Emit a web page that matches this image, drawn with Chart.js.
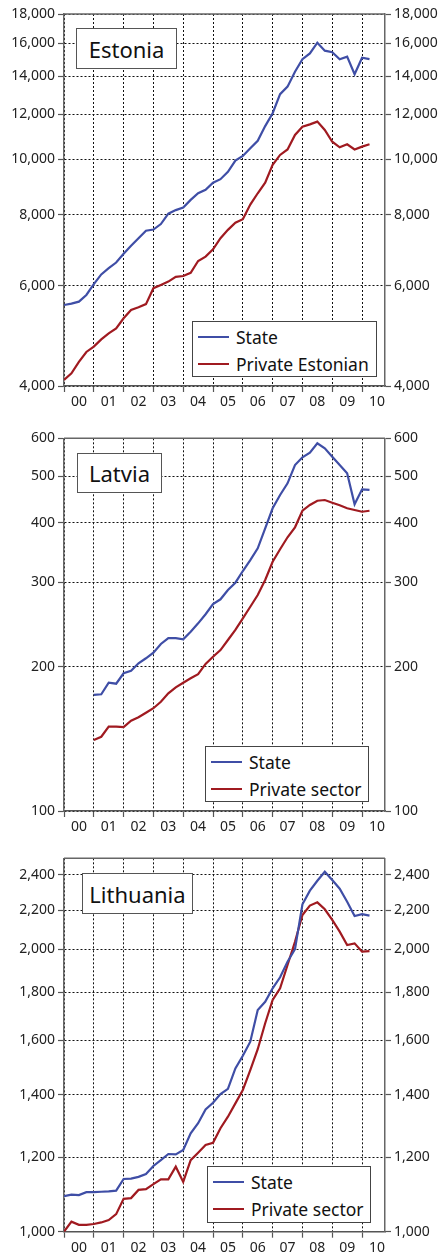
<!DOCTYPE html>
<html><head><meta charset="utf-8">
<script src="https://cdn.jsdelivr.net/npm/chart.js@4.4.1/dist/chart.umd.min.js"></script>
<style>
html,body{margin:0;padding:0;background:#fff;}
body{width:445px;height:1256px;position:relative;overflow:hidden;font-family:"Noto Sans",sans-serif;}
.panel{position:absolute;left:0;width:445px;}
.panel canvas{position:absolute;left:0;top:0;}
.title{position:absolute;background:#fff;border:1px solid #555;box-sizing:border-box;font-size:22px;color:#111;display:flex;align-items:center;justify-content:center;}
.legend{position:absolute;background:#fff;border:1px solid #444;box-sizing:border-box;font-size:17.5px;color:#111;}
.legend .row{display:flex;align-items:center;height:27px;}
.legend .row:first-child{margin-top:1px;}
.legend .sw{width:31px;height:0;border-top:2.5px solid;margin:0 7px 0 5px;}
</style>
</head><body>

<div class="panel" id="p1" style="top:0;height:420px;">
  <canvas id="c1" width="445" height="420"></canvas>
  <div class="title" style="left:76px;top:28px;width:101px;height:41px;">Estonia</div>
  <div class="legend" id="lg1" style="left:192px;top:321px;width:185px;height:56px;"></div>
</div>
<div class="panel" id="p2" style="top:420px;height:420px;">
  <canvas id="c2" width="445" height="420"></canvas>
  <div class="title" style="left:77px;top:33px;width:85px;height:40px;">Latvia</div>
  <div class="legend" id="lg2" style="left:205px;top:326px;width:164px;height:56px;"></div>
</div>
<div class="panel" id="p3" style="top:840px;height:416px;">
  <canvas id="c3" width="445" height="416"></canvas>
  <div class="title" style="left:82px;top:33px;width:111px;height:41px;">Lithuania</div>
  <div class="legend" id="lg3" style="left:207px;top:326px;width:164px;height:57px;"></div>
</div>

<script>
// ---- categories: quarters 2000Q1 .. 2010Q2 ----
const quarters = [];
for (let y = 2000; y <= 2010; y++) for (let q = 1; q <= 4; q++) quarters.push(y + 'Q' + q);
quarters.length = 42;

// ---- x tick labels (years) ----
const yearTicks = [2000,2001,2002,2003,2004,2005,2006,2007,2008,2009,2010];

// ---- Estonia ----
const estoniaState = [5550,5580,5625,5780,6040,6280,6440,6590,6830,7050,7270,7495,7530,7700,8030,8145,8230,8490,8720,8840,9100,9230,9510,9950,10140,10460,10780,11440,12050,13020,13420,14250,14990,15350,16030,15520,15420,14990,15150,14110,15080,15000];
const estoniaPrivate = [4100,4210,4410,4590,4690,4830,4950,5050,5260,5440,5500,5570,5940,6020,6100,6220,6240,6320,6630,6750,6950,7270,7520,7740,7850,8330,8720,9100,9780,10180,10410,11040,11410,11520,11650,11260,10740,10500,10630,10410,10530,10630];
const estoniaTicks = [4000,6000,8000,10000,12000,14000,16000,18000];

// ---- Latvia ----
const latviaState = [null,null,null,null,174.7,175.3,185.3,184.4,193.9,196.3,203.4,208.4,214,223.2,229.7,229.5,228.3,236.8,246.5,257.5,270.5,276.7,289.3,299.7,317,334.2,353.6,389.3,428.6,456.8,483.3,527.7,547.6,559.9,585.8,571.8,549.2,527.7,507,436.9,469.5,468.4];
const latviaPrivate = [null,null,null,null,140.7,142.9,150,150,149.7,154.4,156.9,160.4,163.9,169.1,176.1,181.2,185.3,189.3,193,202.8,209.9,216.8,227.5,238.8,252.5,267,282.5,303.6,331.5,351.9,372.8,391.1,423.6,435.4,444.5,446,440.2,434.8,428.6,425,421.5,423.6];
const latviaTicks = [100,200,300,400,500,600];

// ---- Lithuania ----
const lithuaniaState = [1091,1095,1094,1102,1102,1103,1104,1106,1138,1139,1144,1152,1175,1192,1210,1209,1222,1273,1305,1350,1372,1402,1420,1493,1540,1594,1723,1758,1817,1867,1940,2000,2233,2309,2366,2419,2370,2320,2247,2170,2180,2172];
const lithuaniaPrivate = [1000,1025,1017,1017,1019,1023,1029,1044,1084,1086,1108,1110,1124,1137,1137,1173,1130,1192,1214,1237,1244,1289,1326,1370,1416,1487,1565,1668,1766,1817,1924,2037,2175,2226,2244,2206,2149,2088,2021,2029,1988,1991];
const lithuaniaTicks = [1000,1200,1400,1600,1800,2000,2200,2400];

const BLUE = '#3f4ea6';
const RED = '#a01a20';
const TICKFONT = {family: '"Noto Sans", sans-serif', size: 14};

function qToX(label) {
  const y = parseInt(label.slice(0, 4), 10);
  const q = parseInt(label.slice(5), 10);
  return y + (q - 1) / 4;
}
function toPoints(values) {
  return values.map((v, i) => ({x: qToX(quarters[i]), y: v}));
}

const htmlLegend = {
  id: 'htmlLegend',
  afterUpdate(chart, args, opts) {
    const box = document.getElementById(opts.containerID);
    if (!box) return;
    box.innerHTML = '';
    chart.data.datasets.forEach(ds => {
      const row = document.createElement('div');
      row.className = 'row';
      const sw = document.createElement('span');
      sw.className = 'sw';
      sw.style.borderTopColor = ds.borderColor;
      const tx = document.createElement('span');
      tx.textContent = ds.label;
      row.appendChild(sw); row.appendChild(tx);
      box.appendChild(row);
    });
  }
};

const frame = {
  id: 'frame',
  beforeDatasetsDraw(chart) {
    const {ctx, chartArea: a} = chart;
    ctx.save();
    ctx.strokeStyle = '#666';
    ctx.lineWidth = 1.5;
    ctx.beginPath();
    ctx.moveTo(a.left, a.top);
    ctx.lineTo(a.right, a.top);
    ctx.stroke();
    ctx.restore();
  }
};

function yAxis(pos, min, max, ticks, width) {
  return {
    type: 'logarithmic',
    position: pos,
    min: min, max: max,
    afterBuildTicks: s => { s.ticks = ticks.map(v => ({value: v})); },
    afterFit: s => { s.width = width; },
    ticks: {
      font: TICKFONT, color: '#222', padding: 3,
      callback: v => Number(v).toLocaleString('en-US')
    },
    grid: {
      color: '#111', lineWidth: 1, borderDash: [2, 2],
      drawOnChartArea: pos === 'left',
      tickLength: 6, tickColor: '#555', tickBorderDash: [], tickWidth: 1.2
    },
    border: {display: true, color: '#666', width: 1.5, dash: [2, 2]}
  };
}

function makeChart(id, legendId, state, priv, privLabel, ticks, min, max, padTop, xAxisH) {
  const ctx = document.getElementById(id);
  return new Chart(ctx, {
    type: 'line',
    data: {
      datasets: [
        {label: 'State', data: toPoints(state), borderColor: BLUE, borderWidth: 2.2, pointRadius: 0, tension: 0, yAxisID: 'y'},
        {label: privLabel, data: toPoints(priv), borderColor: RED, borderWidth: 2.2, pointRadius: 0, tension: 0, yAxisID: 'y'}
      ]
    },
    options: {
      responsive: false,
      devicePixelRatio: 1,
      animation: false,
      layout: {padding: {top: padTop, left: 0, right: 0, bottom: 0}},
      plugins: {
        legend: {display: false},
        tooltip: {enabled: false},
        htmlLegend: {containerID: legendId}
      },
      scales: {
        x: {
          type: 'linear',
          position: 'bottom',
          min: 2000, max: 2010.77,
          afterBuildTicks: s => { s.ticks = yearTicks.map(v => ({value: v})); },
          afterFit: s => { s.height = xAxisH; },
          ticks: {
            font: TICKFONT, color: '#222', padding: 2, labelOffset: 14.9, maxRotation: 0, autoSkip: false,
            callback: v => String(v).slice(2)
          },
          grid: {
            color: '#111', lineWidth: 1, borderDash: [2, 2],
            tickLength: 6, tickColor: '#555', tickBorderDash: [], tickWidth: 1.2
          },
          border: {display: true, color: '#555', width: 1.5, dash: [2, 2]}
        },
        y: yAxis('left', min, max, ticks, 64),
        y2: yAxis('right', min, max, ticks, 60)
      }
    },
    plugins: [htmlLegend, frame]
  });
}

makeChart('c1', 'lg1', estoniaState, estoniaPrivate, 'Private Estonian', estoniaTicks, 4000, 18000, 14, 34);
makeChart('c2', 'lg2', latviaState, latviaPrivate, 'Private sector', latviaTicks, 100, 600, 18.3, 29);
makeChart('c3', 'lg3', lithuaniaState, lithuaniaPrivate, 'Private sector', lithuaniaTicks, 1000, 2500, 18.3, 24.3);
</script>
</body></html>
